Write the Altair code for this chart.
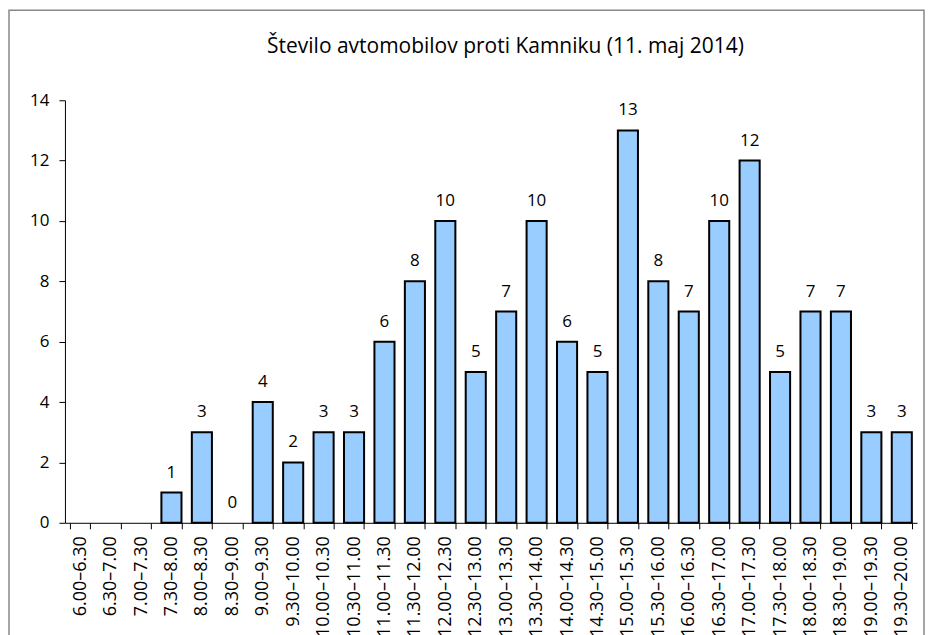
import altair as alt
import pandas as pd

categories = ["6.00–6.30", "6.30–7.00", "7.00–7.30", "7.30–8.00", "8.00–8.30", "8.30–9.00",
              "9.00–9.30", "9.30–10.00", "10.00–10.30", "10.30–11.00", "11.00–11.30", "11.30–12.00",
              "12.00–12.30", "12.30–13.00", "13.00–13.30", "13.30–14.00", "14.00–14.30", "14.30–15.00",
              "15.00–15.30", "15.30–16.00", "16.00–16.30", "16.30–17.00", "17.00–17.30", "17.30–18.00",
              "18.00–18.30", "18.30–19.00", "19.00–19.30", "19.30–20.00"]
values = [None, None, None, 1, 3, 0, 4, 2, 3, 3, 6, 8, 10, 5, 7, 10, 6, 5, 13, 8, 7, 10, 12, 5, 7, 7, 3, 3]
y_ticks = [0, 2, 4, 6, 8, 10, 12, 14]
title_text = "Število avtomobilov proti Kamniku (11. maj 2014)"

df = pd.DataFrame({"cas": categories, "n": values})
FONT = "Open Sans"

x = alt.X("cas:N", sort=categories, title=None,
          scale=alt.Scale(domain=categories, paddingInner=0.34, paddingOuter=0.17),
          axis=alt.Axis(labelAngle=-90, labelAlign="right", labelBaseline="middle",
                        tickBand="extent", tickSize=6, labelPadding=7,
                        labelFontSize=18, labelFont=FONT))
y = alt.Y("n:Q", title=None,
          scale=alt.Scale(domain=[0, 14], nice=False),
          axis=alt.Axis(values=y_ticks, grid=False, tickSize=6, labelPadding=10,
                        labelFontSize=17, labelFont=FONT))

bars = alt.Chart(df).transform_filter("datum.n > 0").mark_bar(
    fill="#99CCFF", stroke="black", strokeWidth=2).encode(x=x, y=y)
labels = alt.Chart(df).transform_filter("datum.n != null").mark_text(
    dy=-20, fontSize=17, font=FONT, color="black").encode(x=x, y=y, text="n:Q")

frame = alt.Chart(pd.DataFrame({"a": [0]})).mark_rect(
    fill=None, stroke="#888888", strokeWidth=1.5).encode(
    x=alt.value(-56), x2=alt.value(860), y=alt.value(-90), y2=alt.value(700))

title = alt.Chart(pd.DataFrame({"t": [title_text]})).mark_text(
    fontSize=21, font=FONT, color="black", align="center", baseline="middle").encode(
    x=alt.value(441), y=alt.value(-53), text="t:N")

chart = alt.layer(frame, bars, labels, title).properties(
    width=853, height=423,
    background="white",
    autosize=alt.AutoSizeParams(type="none"),
    padding={"left": 57, "top": 92, "right": 10, "bottom": 130},
).configure_view(
    stroke="transparent", strokeWidth=0
).configure_axis(
    domainColor="black", tickColor="black", labelColor="black", labelFont=FONT, domainWidth=1
).configure_axisX(labelFontSize=18).configure_axisY(labelFontSize=17)

chart.save("out.html", embed_options={"renderer": "svg", "actions": False})
